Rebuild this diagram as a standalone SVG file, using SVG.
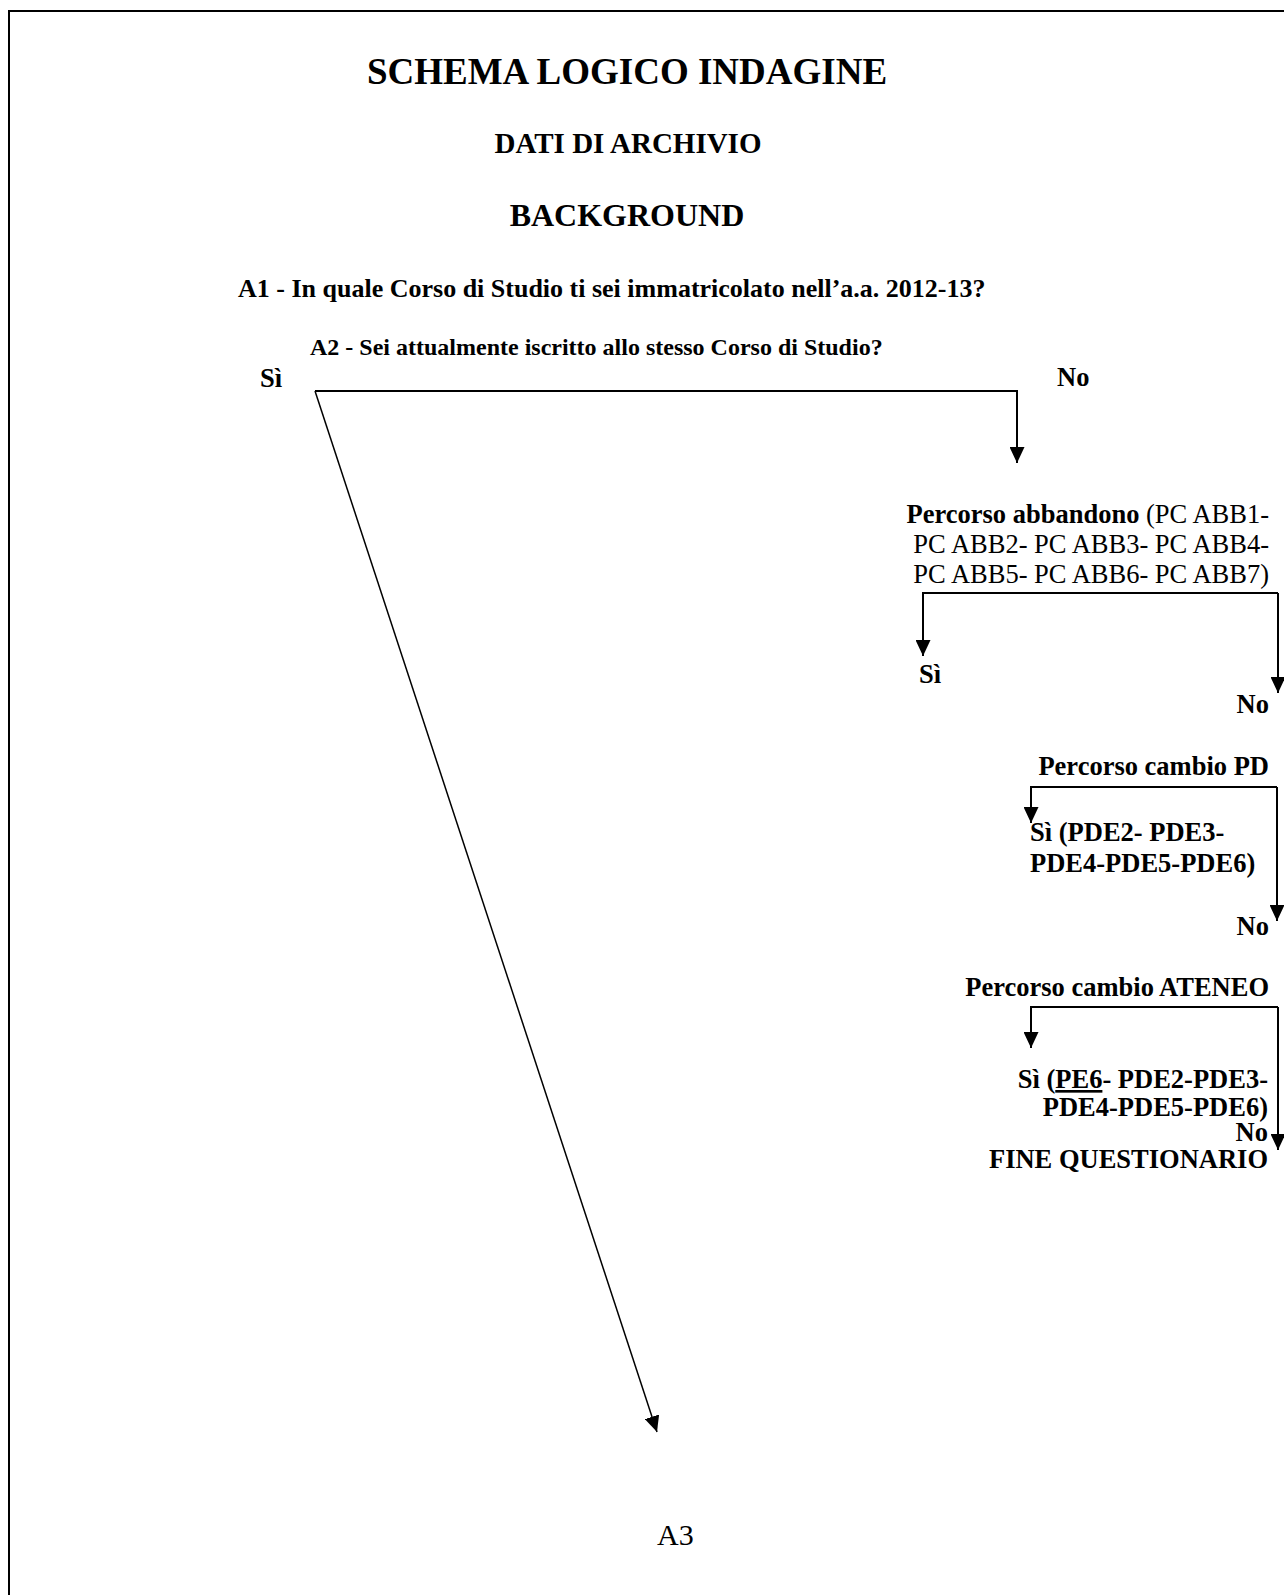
<svg xmlns="http://www.w3.org/2000/svg" width="1284" height="1595" viewBox="0 0 1284 1595">
<defs>
<style>
text{font-family:"Liberation Serif","Times New Roman",serif;fill:#000}
.b{font-weight:bold}
.t{font-size:26.5px}
.c{stroke:#000;stroke-width:2;fill:none}
.d{stroke:#000;stroke-width:1.5;fill:none}
.end{text-anchor:end}
.mid{text-anchor:middle}
</style>
<marker id="ah" viewBox="0 0 16 15" refX="16" refY="7.5" markerWidth="16" markerHeight="15" markerUnits="userSpaceOnUse" orient="auto">
<path d="M0,0 L16,7.5 L0,15 z" fill="#000"/>
</marker>
</defs>
<rect width="1284" height="1595" fill="#fff"/>
<path d="M9,1600 V11 H1290" stroke="#000" stroke-width="2" fill="none"/>

<g id="header">
<text class="b mid" x="627" y="84" font-size="37">SCHEMA LOGICO INDAGINE</text>
<text class="b mid" x="628" y="153" font-size="29">DATI DI ARCHIVIO</text>
<text class="b mid" x="627" y="226" font-size="32">BACKGROUND</text>
</g>
<g id="A1"><text class="b" x="238" y="297" font-size="26">A1 - In quale Corso di Studio ti sei immatricolato nell’a.a. 2012-13?</text></g>
<g id="A2"><text class="b" x="310" y="355" font-size="24">A2 - Sei attualmente iscritto allo stesso Corso di Studio?</text></g>
<g id="A2-si"><text class="b t" x="260" y="387">Sì</text></g>
<g id="A2-no"><text class="b t" x="1057" y="386">No</text></g>

<g id="abbandono">
<text class="t end" x="1269" y="523"><tspan class="b">Percorso abbandono</tspan> (PC ABB1-</text>
<text class="t end" x="1269" y="553">PC ABB2- PC ABB3- PC ABB4-</text>
<text class="t end" x="1269" y="583">PC ABB5- PC ABB6- PC ABB7)</text>
</g>
<g id="abb-si"><text class="b t" x="919" y="683">Sì</text></g>
<g id="abb-no"><text class="b t end" x="1269" y="713">No</text></g>

<g id="cambio-pd">
<text class="b t end" x="1269" y="775">Percorso cambio PD</text>
</g>
<g id="pd-si">
<text class="b t" x="1030" y="841">Sì (PDE2- PDE3-</text>
<text class="b t" x="1030" y="872">PDE4-PDE5-PDE6)</text>
</g>
<g id="pd-no"><text class="b t end" x="1269" y="935">No</text></g>

<g id="cambio-ateneo">
<text class="b t end" x="1269" y="996">Percorso cambio ATENEO</text>
</g>
<g id="ateneo-si">
<text class="b t end" x="1268" y="1088">Sì (<tspan text-decoration="underline">PE6</tspan>- PDE2-PDE3-</text>
<text class="b t end" x="1268" y="1116">PDE4-PDE5-PDE6)</text>
</g>
<g id="ateneo-no">
<text class="b t end" x="1268" y="1141">No</text>
<text class="b t end" x="1268" y="1168">FINE QUESTIONARIO</text>
</g>
<g id="A3"><text x="657" y="1545" font-size="30">A3</text></g>

<g id="connectors">
<path class="c" d="M315,391 H1017 V463" marker-end="url(#ah)"/>
<path class="d" d="M315,391 L657,1432" marker-end="url(#ah)"/>
<path class="c" d="M1278,593 H923 V656" marker-end="url(#ah)"/>
<path class="c" d="M1278,593 V693" marker-end="url(#ah)"/>
<path class="c" d="M1277,787 H1031 V823" marker-end="url(#ah)"/>
<path class="c" d="M1277,787 V921" marker-end="url(#ah)"/>
<path class="c" d="M1278,1007 H1031 V1048" marker-end="url(#ah)"/>
<path class="c" d="M1278,1007 V1150" marker-end="url(#ah)"/>
</g>
</svg>
